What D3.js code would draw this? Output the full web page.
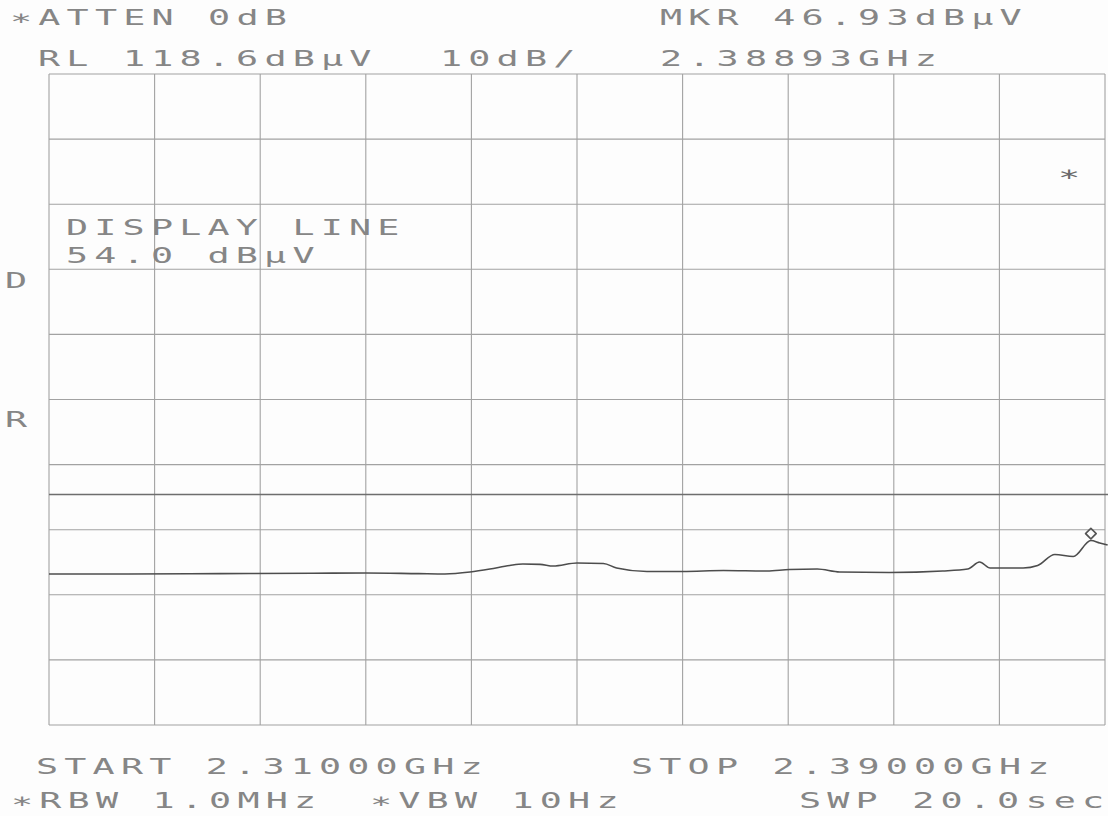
<!DOCTYPE html>
<html>
<head>
<meta charset="utf-8">
<script src="https://cdn.jsdelivr.net/npm/d3@7"></script>
<style>
  html, body { margin: 0; padding: 0; background: #fdfdfd; }
  svg { display: block; }
</style>
</head>
<body>
<svg id="plot" width="1108" height="816"></svg>
<script>
// Sweep settings
const startGHz = 2.31;
const stopGHz = 2.39;
const refLevelDbuV = 118.6;
const dbPerDiv = 10;
const divisions = 10;
const displayLineDbuV = 54.0;

// Marker reading
const markerGHz = 2.38893;
const markerDbuV = 46.93;

// Trace: frequency (GHz) and level (dBµV)
const traceGHz = [
  2.3100, 2.3160, 2.3230, 2.3300, 2.3340, 2.3380, 2.3400, 2.3419, 2.3434, 2.3449,
  2.3459, 2.3472, 2.3482, 2.3500, 2.3520, 2.3530, 2.3553, 2.3580, 2.3611, 2.3644,
  2.3661, 2.3682, 2.3699, 2.3737, 2.3777, 2.3796, 2.3805, 2.3813, 2.3838, 2.3849,
  2.3862, 2.3876, 2.38893, 2.3896, 2.3902
];
const traceDbuV = [
  41.80, 41.80, 41.85, 41.90, 41.95, 41.85, 41.80, 42.10, 42.55, 43.10,
  43.33, 43.28, 43.02, 43.48, 43.41, 42.72, 42.18, 42.18, 42.33, 42.26,
  42.49, 42.56, 42.10, 42.03, 42.26, 42.56, 43.64, 42.72, 42.72, 43.10,
  44.79, 44.48, 46.93, 46.56, 46.25
];

// Annotation texts
const headerLeft = ["∗ATTEN 0dB", "RL 118.6dBµV"];
const headerScale = ["10dB/"];
const headerRight = ["MKR 46.93dBµV", "2.38893GHz"];
const displayLineLabel = ["DISPLAY LINE", "54.0 dBµV"];
const sideLetters = ["D", "R"];
const footerTop = ["START 2.31000GHz", "STOP 2.39000GHz"];
const footerBottom = ["∗RBW 1.0MHz", "∗VBW 10Hz", "SWP 20.0sec"];
const cornerSymbol = ["∗"];

const svg = d3.select("#plot");

const x = d3.scaleLinear().domain([startGHz, stopGHz]).range([49, 1105]);
const y = d3.scaleLinear()
  .domain([refLevelDbuV - dbPerDiv * divisions, refLevelDbuV])
  .range([725, 74]);

// Graticule
const xTicks = d3.range(divisions + 1).map(i => startGHz + i * (stopGHz - startGHz) / divisions);
const yTicks = d3.range(divisions + 1).map(i => refLevelDbuV - i * dbPerDiv);

const grid = svg.append("g").attr("stroke", "#a2a2a2").attr("stroke-width", 1.1).attr("fill", "none");
grid.selectAll("line.v").data(xTicks).join("line")
  .attr("class", "v")
  .attr("x1", d => x(d)).attr("x2", d => x(d))
  .attr("y1", y.range()[1]).attr("y2", y.range()[0]);
grid.selectAll("line.h").data(yTicks).join("line")
  .attr("class", "h")
  .attr("x1", x.range()[0]).attr("x2", x.range()[1])
  .attr("y1", d => y(d)).attr("y2", d => y(d));

// Display line
svg.append("line")
  .attr("x1", x.range()[0]).attr("x2", 1108)
  .attr("y1", y(displayLineDbuV)).attr("y2", y(displayLineDbuV))
  .attr("stroke", "#6e6e6e").attr("stroke-width", 1.5);

// Trace
const trace = traceGHz.map((f, i) => [f, traceDbuV[i]]);
svg.append("path")
  .datum(trace)
  .attr("fill", "none")
  .attr("stroke", "#4d4d4d")
  .attr("stroke-width", 1.6)
  .attr("stroke-linejoin", "round")
  .attr("d", d3.line().x(d => x(d[0])).y(d => y(d[1])).curve(d3.curveMonotoneX));

// Marker diamond, sitting just above the marked point
const mx = x(markerGHz), my = y(markerDbuV) - 7;
svg.append("path")
  .attr("d", d3.symbol(d3.symbolSquare, 56)())
  .attr("transform", `translate(${mx},${my}) rotate(45)`)
  .attr("fill", "none")
  .attr("stroke", "#555")
  .attr("stroke-width", 1.7)
  .attr("stroke-linejoin", "round");

// Plotter-style lettering: fixed pitch, wide glyphs
const pitch = 28.3, sx = 1.75, fontSize = 21;
function plotText(str, px, baseline, color) {
  const chars = Array.from(str);
  const step = pitch / sx;
  svg.append("text")
    .attr("transform", `translate(${px},${baseline}) scale(${sx},1)`)
    .attr("font-family", "DejaVu Sans Mono")
    .attr("font-size", fontSize)
    .attr("fill", color || "#868686")
    .selectAll("tspan")
    .data(chars)
    .join("tspan")
    .attr("x", (c, i) => i * step)
    .text(c => c);
}

plotText(headerLeft[0], 10, 25);
plotText(headerLeft[1], 38, 66);
plotText(headerScale[0], 440, 66);
plotText(headerRight[0], 660, 25);
plotText(headerRight[1], 660, 66);
plotText(displayLineLabel[0], 66, 235);
plotText(displayLineLabel[1], 66, 263);
plotText(sideLetters[0], 5, 288);
plotText(sideLetters[1], 5, 427);
plotText(footerTop[0], 36, 774);
plotText(footerTop[1], 631, 774);
plotText(footerBottom[0], 11, 808);
plotText(footerBottom[1], 370, 808);
plotText(footerBottom[2], 799, 808);
plotText(cornerSymbol[0], 1058, 181, "#6a6a6a");
</script>
</body>
</html>
